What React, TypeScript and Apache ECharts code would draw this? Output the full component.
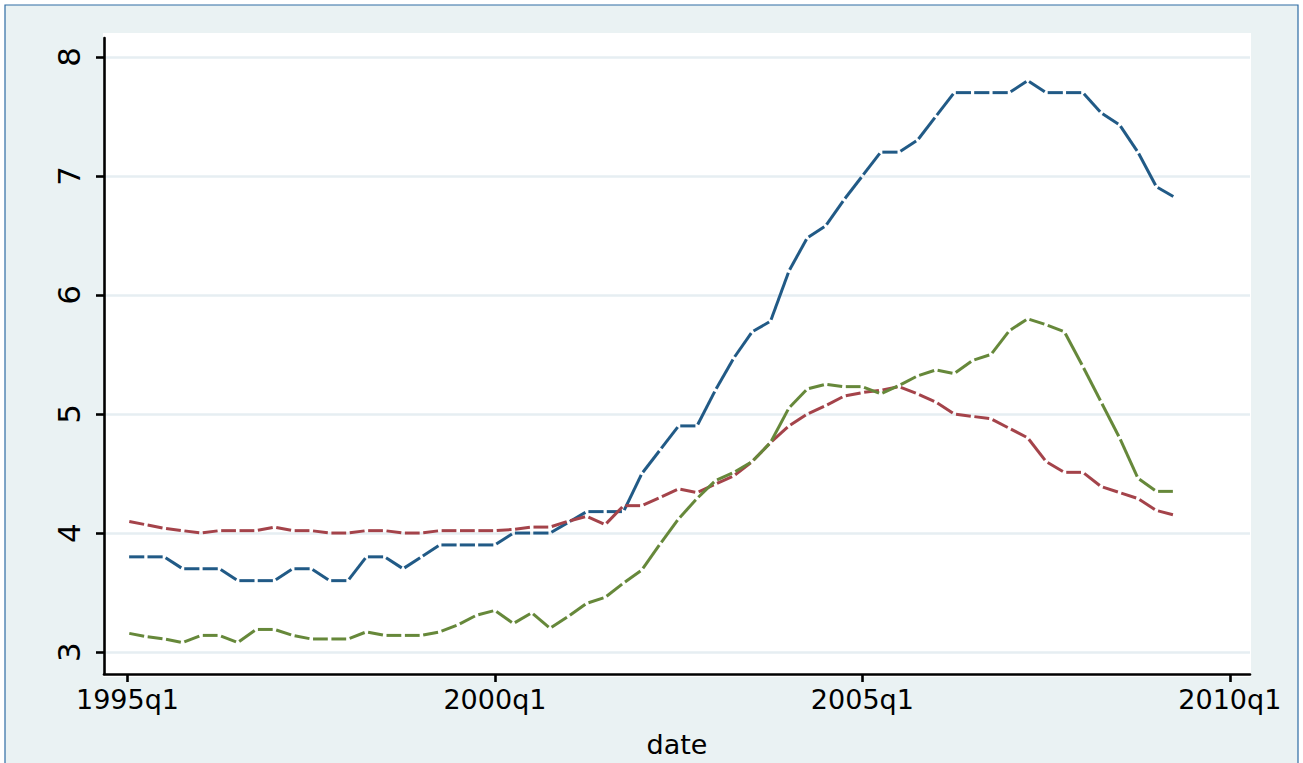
import React, { useEffect, useRef } from "react";
import * as echarts from "echarts";

// ---- data (quarterly, index 0 = 1995q1) ----
const START_YEAR = 1995;
const xTickValues = [0, 20, 40, 60];
const yTickValues = [3, 4, 5, 6, 7, 8];

const seriesBlue = [
  3.8, 3.8, 3.8, 3.7, 3.7, 3.7, 3.6, 3.6, 3.6, 3.7,
  3.7, 3.6, 3.6, 3.8, 3.8, 3.7, 3.8, 3.9, 3.9, 3.9,
  3.9, 4.0, 4.0, 4.0, 4.09, 4.18, 4.18, 4.18, 4.5, 4.7,
  4.9, 4.9, 5.2, 5.47, 5.69, 5.78, 6.2, 6.48, 6.58, 6.8,
  7.0, 7.2, 7.2, 7.3, 7.5, 7.7, 7.7, 7.7, 7.7, 7.8,
  7.7, 7.7, 7.7, 7.53, 7.43, 7.2, 6.91, 6.82,
];

const seriesRed = [
  4.1, 4.07, 4.04, 4.02, 4.0, 4.02, 4.02, 4.02, 4.05, 4.02,
  4.02, 4.0, 4.0, 4.02, 4.02, 4.0, 4.0, 4.02, 4.02, 4.02,
  4.02, 4.03, 4.05, 4.05, 4.1, 4.14, 4.07, 4.23, 4.23, 4.3,
  4.37, 4.34, 4.41, 4.48, 4.6, 4.76, 4.9, 5.0, 5.07, 5.15,
  5.18, 5.2, 5.23, 5.17, 5.1, 5.0, 4.98, 4.96, 4.88, 4.8,
  4.6, 4.51, 4.51, 4.39, 4.34, 4.29, 4.19, 4.15,
];

const seriesGreen = [
  3.16, 3.13, 3.11, 3.08, 3.14, 3.14, 3.08, 3.19, 3.19, 3.14,
  3.11, 3.11, 3.11, 3.17, 3.14, 3.14, 3.14, 3.17, 3.23, 3.31,
  3.35, 3.24, 3.33, 3.2, 3.3, 3.41, 3.46, 3.58, 3.69, 3.91,
  4.12, 4.29, 4.44, 4.51, 4.6, 4.76, 5.05, 5.21, 5.25, 5.23,
  5.23, 5.17, 5.24, 5.32, 5.37, 5.34, 5.45, 5.5, 5.7, 5.8,
  5.75, 5.69, 5.4, 5.1, 4.8, 4.46, 4.35, 4.35,
];

const FONT = "DejaVu Sans";

function segments(values: number[]) {
  const out: number[][] = [];
  for (let i = 0; i < values.length - 1; i++) {
    out.push([i, values[i], i + 1, values[i + 1]]);
  }
  return out;
}

function dashedSeries(name: string, values: number[], color: string, gap: number) {
  return {
    type: "custom",
    name,
    data: segments(values),
    encode: { x: [0, 2], y: [1, 3] },
    z: 3,
    renderItem: (params: any, api: any) => {
      const p0 = api.coord([api.value(0), api.value(1)]);
      const p1 = api.coord([api.value(2), api.value(3)]);
      const dx = p1[0] - p0[0];
      const dy = p1[1] - p0[1];
      const len = Math.sqrt(dx * dx + dy * dy) || 1;
      const ux = dx / len;
      const uy = dy / len;
      return {
        type: "line",
        shape: {
          x1: p0[0] + ux * gap,
          y1: p0[1] + uy * gap,
          x2: p1[0] - ux * gap,
          y2: p1[1] - uy * gap,
        },
        style: { stroke: color, lineWidth: 3, lineCap: "butt", fill: null },
      };
    },
  };
}

export default function App() {
  const ref = useRef<HTMLDivElement>(null);

  useEffect(() => {
    if (!ref.current) return;
    const chart = echarts.init(ref.current, undefined, { renderer: "svg" });
    const axisLineStyle = { color: "#000000", width: 2.6 };
    chart.setOption({
      animation: false,
      backgroundColor: "#ffffff",
      grid: { left: 104, right: 53, top: 38, bottom: 87, containLabel: false },
      graphic: [
        {
          type: "rect",
          z: -2,
          shape: { x: 5, y: 5, width: 1293, height: 762 },
          style: { fill: "#EAF2F3", stroke: "#2E6CA4", lineWidth: 1.2 },
          silent: true,
        },
        {
          type: "rect",
          z: -1,
          shape: { x: 103, y: 33, width: 1148, height: 644 },
          style: { fill: "#ffffff" },
          silent: true,
        },
      ],
      xAxis: {
        type: "value",
        min: -1.28,
        max: 61.1,
        name: "date",
        nameLocation: "middle",
        nameGap: 57,
        nameTextStyle: { fontFamily: FONT, fontSize: 27, color: "#000" },
        axisLine: { show: true, onZero: false, lineStyle: axisLineStyle },
        axisTick: {
          show: true,
          length: 8,
          inside: false,
          customValues: xTickValues,
          lineStyle: axisLineStyle,
        },
        axisLabel: {
          customValues: xTickValues,
          margin: 12,
          fontFamily: FONT,
          fontSize: 27,
          color: "#000",
          formatter: (v: number) => `${START_YEAR + Math.floor(v / 4)}q${(v % 4) + 1}`,
        },
        splitLine: { show: false },
      },
      yAxis: {
        type: "value",
        min: 2.8157,
        max: 8.159,
        axisLine: { show: true, onZero: false, lineStyle: axisLineStyle },
        axisTick: {
          show: true,
          length: 8,
          inside: false,
          customValues: yTickValues,
          lineStyle: axisLineStyle,
        },
        axisLabel: {
          customValues: yTickValues,
          rotate: 90,
          margin: 20,
          fontFamily: FONT,
          fontSize: 31,
          color: "#000",
        },
        splitLine: { show: true, lineStyle: { color: "#E6EEF2", width: 2.5 } },
      },
      series: [
        dashedSeries("blue", seriesBlue, "#215A86", 1.6),
        dashedSeries("red", seriesRed, "#A4434A", 1.8),
        dashedSeries("green", seriesGreen, "#66883A", 1.8),
      ],
    });
    return () => chart.dispose();
  }, []);

  return (
    <div
      ref={ref}
      style={{ position: "fixed", left: 0, top: 0, width: 1303, height: 763 }}
    />
  );
}
